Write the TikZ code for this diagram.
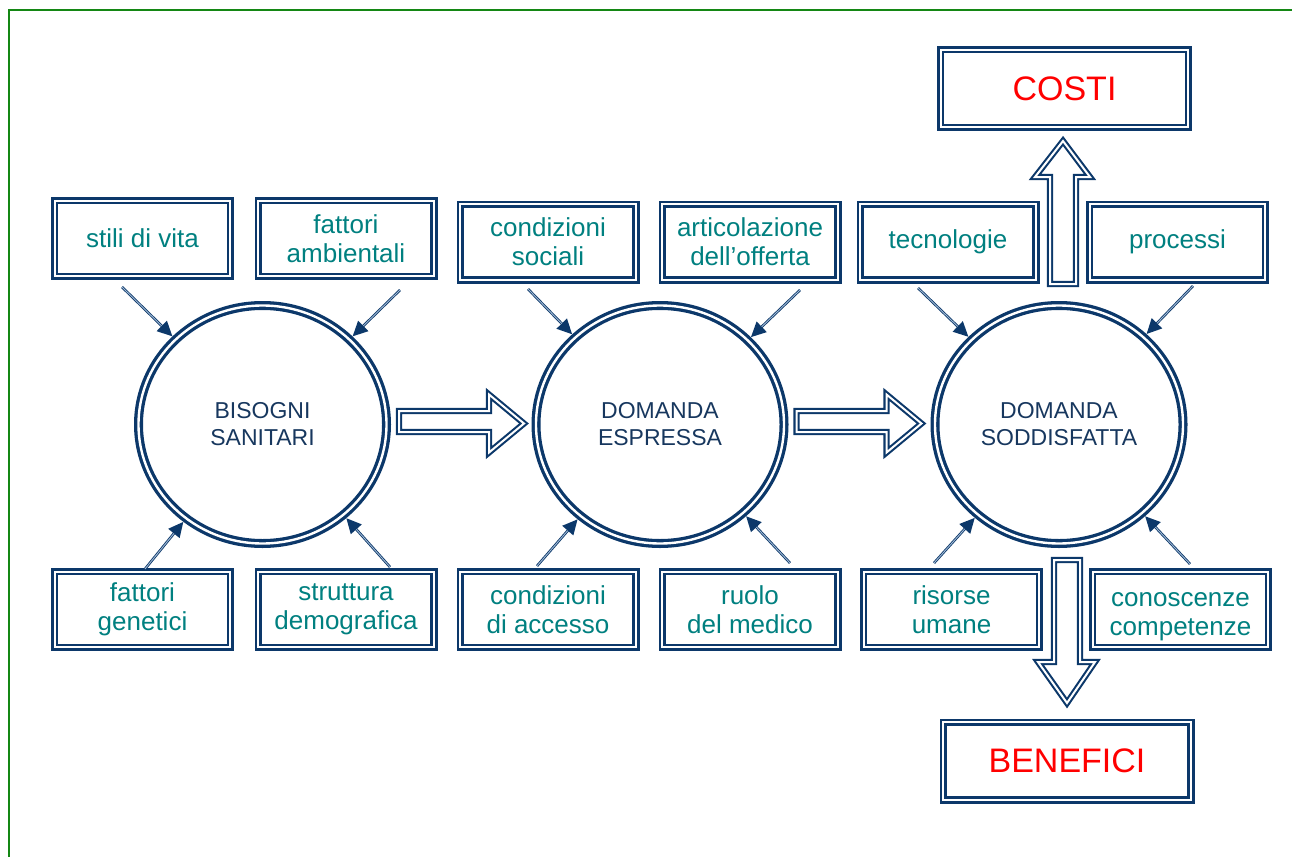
\documentclass[tikz,border=0pt]{standalone}
\usepackage{fontspec}
\setmainfont{Liberation Sans}
\usetikzlibrary{arrows.meta,shapes.geometric,calc}
\definecolor{navy}{RGB}{12,56,106}
\definecolor{tealtxt}{RGB}{0,128,128}
\definecolor{circtxt}{RGB}{23,55,94}
\definecolor{framegreen}{RGB}{20,135,20}
\definecolor{shaftlight}{RGB}{160,185,212}

\begin{document}
\begin{tikzpicture}[x=1pt,y=-1pt,
  box/.style={draw=navy, double=white, line width=2.6pt, double distance=2pt,
    fill=white, inner sep=0pt, align=center, text=tealtxt,
    font=\fontsize{26}{29}\selectfont, minimum width=175.8pt, minimum height=75.8pt},
  bigbox/.style={box, text=red, font=\fontsize{34}{40}\selectfont,
    minimum width=247.8pt, minimum height=77.8pt},
  stage/.style={ellipse, draw=navy, double=white, line width=3.3pt, double distance=2.4pt,
    inner sep=0pt, outer sep=4.5pt, align=center, text=circtxt,
    font=\fontsize{23}{27}\selectfont, minimum width=248pt, minimum height=238pt},
  blockarrow/.style={draw=navy, double=white, line width=2.1pt, double distance=2pt,
    fill=white, line join=miter},
  smallarrow/.style={draw=navy, line width=2.6pt, -{Triangle[length=15pt,width=14pt]},
    postaction={draw=shaftlight, line width=0.9pt, shorten >=15pt, -}}
]
\useasboundingbox (0,0) rectangle (1292,856);

% frame
\draw[framegreen, line width=2.5pt] (9,858) -- (9,10) -- (1294,10);

% factor boxes, upper row
\node[box] (b1) at (142.5,238.5) {stili di vita};
\node[box] (b2) at (346,238.5) {fattori\\ambientali};
\node[box] (b3) at (548,242) {condizioni\\sociali};
\node[box] (b4) at (750,242) {articolazione\\dell’offerta};
\node[box] (b5) at (948,242) {tecnologie};
\node[box] (b6) at (1177.5,242) {processi};

% factor boxes, lower row
\node[box] (b7) at (142.5,609.5) {fattori\\genetici};
\node[box] (b8) at (346,609.5) {struttura\\demografica};
\node[box] (b9) at (548,609.5) {condizioni\\di accesso};
\node[box] (b10) at (750,609.5) {ruolo\\del medico};
\node[box] (b11) at (951.5,609.5) {risorse\\umane};
\node[box, text height=52pt, text depth=0pt] (b12) at (1180.5,609.5) {conoscenze\\competenze};

% outcome boxes
\node[bigbox] (costi) at (1064.5,88.5) {COSTI};
\node[bigbox] (benefici) at (1067,761) {BENEFICI};

% stages
\node[stage] (c1) at (262.5,424.5) {BISOGNI\\SANITARI};
\node[stage] (c2) at (660,424.5) {DOMANDA\\ESPRESSA};
\node[stage] (c3) at (1059,424.5) {DOMANDA\\SODDISFATTA};

% block arrows between stages
\foreach \s in {c1,c2}{
  \draw[blockarrow] ($(\s.east)+(8,-13.5)$) -- ++(90,0) -- ++(0,-16.5) -- ++(35,29)
    -- ++(-35,29) -- ++(0,-20.5) -- ++(-90,0) -- cycle;
}
% up to costs
\draw[blockarrow] ($(c3.north)+(-9,-17)$) -- ++(0,-107) -- ++(-15,0) -- ++(28,-36)
  -- ++(27,36) -- ++(-14,0) -- ++(0,107) -- cycle;
% down to benefits
\draw[blockarrow] ($(c3.south)+(-5,12)$) -- ++(0,102) -- ++(-16,0) -- ++(29,41)
  -- ++(28,-41) -- ++(-15,0) -- ++(0,-102) -- cycle;

% influence arrows
\coordinate (p1) at (122,287);
\coordinate (p2) at (400,290);
\coordinate (p3) at (145,569);
\coordinate (p4) at (390,567);
\coordinate (p5) at (528,289);
\coordinate (p6) at (800,290);
\coordinate (p7) at (537,566);
\coordinate (p8) at (790,563);
\coordinate (p9) at (918,288);
\coordinate (p10) at (1193,286);
\coordinate (p11) at (934,563);
\coordinate (p12) at (1190,564);
\foreach \p in {p1,p2,p3,p4}{\draw[smallarrow] (\p) -- (c1);}
\foreach \p in {p5,p6,p7,p8}{\draw[smallarrow] (\p) -- (c2);}
\foreach \p in {p9,p10,p11,p12}{\draw[smallarrow] (\p) -- (c3);}
\end{tikzpicture}
\end{document}
